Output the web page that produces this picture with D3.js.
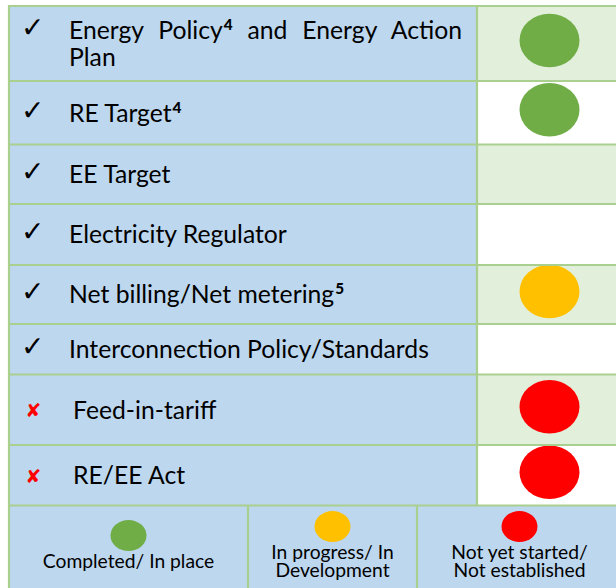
<!DOCTYPE html>
<html>
<head>
<meta charset="utf-8">
<script src="https://cdn.jsdelivr.net/npm/d3@7"></script>
<style>
  html, body { margin: 0; padding: 0; background: #ffffff; }
  svg { display: block; }
</style>
</head>
<body>
<svg id="chart" width="616" height="588"></svg>
<script>
// ---------------- data ----------------
const labels = [
  "Energy Policy{4} and Energy Action|Plan",
  "RE Target{4}",
  "EE Target",
  "Electricity Regulator",
  "Net billing/Net metering{5}",
  "Interconnection Policy/Standards",
  "Feed-in-tariff",
  "RE/EE Act"
];
const marks = ["check", "check", "check", "check", "check", "check", "cross", "cross"];
const statuses = ["done", "done", null, null, "progress", null, "notstarted", "notstarted"];

const legendKeys = ["done", "progress", "notstarted"];
const legendLabels = ["Completed/ In place", "In progress/ In|Development", "Not yet started/|Not established"];

// ---------------- layout / style ----------------
const W = 616, H = 588;
const X0 = 9, XDIV = 477, X1 = 622, Y0 = 6;
const rowHeights = [75, 63.5, 59.5, 61, 59, 50.5, 70.5, 60.5];
const legendDividers = [X0, 248, 417, X1];
const legendBottom = 610;

const blue = "#BDD7EE", lightGreen = "#E2EFDA", border = "#A9D08E";
const color = d3.scaleOrdinal(legendKeys, ["#70AD47", "#FFC000", "#FF0000"]);
const FONT = "Lato, 'Open Sans', sans-serif";

const rowTops = [Y0, ...d3.cumsum(rowHeights).map(v => Y0 + v)];
const yTop = d3.scaleOrdinal(d3.range(labels.length), rowTops.slice(0, labels.length));
const yBottom = d3.scaleOrdinal(d3.range(labels.length), rowTops.slice(1));
const tableBottom = rowTops[rowTops.length - 1];
const statusX = d3.scalePoint().domain(["status"]).range([XDIV, X1]).padding(0.5);
// legend cells have uneven widths in the source; map each key to its own cell
const legendCell = d3.scaleOrdinal(legendKeys, d3.range(3).map(i => [legendDividers[i], legendDividers[i + 1]]));

const svg = d3.select("#chart");

// measure helper
function measure(text, size, weight) {
  const t = svg.append("text").attr("font-family", FONT).attr("font-size", size)
    .attr("font-weight", weight || "normal").text(text);
  const w = t.node().getComputedTextLength();
  t.remove();
  return w;
}
const labelSize = 100 * 360 / measure("Interconnection Policy/Standards", 100);
const legendSize = 0.98 * 100 * 175 / measure("Completed/ In place", 100);

// ---------------- cells ----------------
const rows = svg.append("g").selectAll("g").data(labels).join("g");

rows.append("rect")
  .attr("x", X0).attr("y", (d, i) => yTop(i))
  .attr("width", XDIV - X0).attr("height", (d, i) => yBottom(i) - yTop(i))
  .attr("fill", blue);
rows.append("rect")
  .attr("x", XDIV).attr("y", (d, i) => yTop(i))
  .attr("width", X1 - XDIV).attr("height", (d, i) => yBottom(i) - yTop(i))
  .attr("fill", (d, i) => i % 2 === 0 ? lightGreen : "#ffffff");

// legend cells
svg.append("rect").attr("x", X0).attr("y", tableBottom)
  .attr("width", X1 - X0).attr("height", legendBottom - tableBottom).attr("fill", blue);

// ---------------- grid lines ----------------
const grid = svg.append("g").attr("stroke", border).attr("stroke-width", 2.2).attr("fill", "none");
rowTops.forEach(y => grid.append("line").attr("x1", X0 - 1).attr("x2", X1).attr("y1", y).attr("y2", y));
grid.append("line").attr("x1", X0).attr("x2", X0).attr("y1", Y0 - 1).attr("y2", legendBottom);
grid.append("line").attr("x1", XDIV).attr("x2", XDIV).attr("y1", Y0).attr("y2", tableBottom);
legendDividers.slice(1, 3).forEach(x =>
  grid.append("line").attr("x1", x).attr("x2", x).attr("y1", tableBottom).attr("y2", legendBottom));

// ---------------- labels ----------------
const lineGap = 27;
rows.each(function (label, i) {
  const g = d3.select(this);
  const lines = label.split("|");
  const mid = (yTop(i) + yBottom(i)) / 2;
  const capH = labelSize * 0.72;
  const firstBase = mid + capH / 2 - (lines.length - 1) * lineGap / 2;
  const tx = marks[i] === "check" ? 69 : 73;

  lines.forEach((line, li) => {
    const t = g.append("text")
      .attr("x", tx).attr("y", firstBase + li * lineGap)
      .attr("font-family", FONT).attr("font-size", labelSize).attr("fill", "#000");
    const parts = line.split(/(\{\d\})/).filter(s => s.length);
    let raised = false;
    parts.forEach(p => {
      const m = p.match(/^\{(\d)\}$/);
      if (m) {
        t.append("tspan").attr("dy", -9).attr("dx", 1).attr("font-size", labelSize * 0.62)
          .attr("font-weight", 900).text(m[1]);
        raised = true;
      } else {
        t.append("tspan").attr("dy", raised ? 9 : 0).text(p);
        raised = false;
      }
    });
    if (li < lines.length - 1) {
      const natural = t.node().getComputedTextLength();
      const spaces = (line.match(/ /g) || []).length;
      const target = 461 - tx;
      if (spaces > 0) t.attr("word-spacing", (target - natural) / spaces);
    }
  });

  if (marks[i] === "check") {
    g.append("text").attr("x", 21).attr("y", firstBase - 2)
      .attr("font-family", "DejaVu Sans").attr("font-size", 28)
      .attr("fill", "#000")
      .text("\u2713");
  } else {
    g.append("text").attr("x", 33.3).attr("y", firstBase - 1.5)
      .attr("text-anchor", "middle")
      .attr("font-family", "DejaVu Sans").attr("font-size", 19).attr("font-weight", "bold")
      .attr("fill", "#FF0000")
      .text("\u2718");
  }
});

// ---------------- status dots ----------------
rows.filter((d, i) => statuses[i] !== null)
  .append("ellipse")
  .attr("cx", statusX("status"))
  .attr("cy", d => {
    const idx = labels.indexOf(d);
    return (yTop(idx) + yBottom(idx)) / 2 - 3;
  })
  .attr("rx", 30).attr("ry", 26.7)
  .attr("fill", d => color(statuses[labels.indexOf(d)]));

// ---------------- legend ----------------
const leg = svg.append("g").selectAll("g").data(legendKeys).join("g");
leg.each(function (k, i) {
  const g = d3.select(this);
  const [a, b] = legendCell(k);
  const cx = (a + b) / 2;
  const lines = legendLabels[i].split("|");
  const firstBase = lines.length === 1 ? 568 : 559;
  g.append("ellipse").attr("cx", cx).attr("cy", firstBase - 32.5)
    .attr("rx", 18).attr("ry", 15.5).attr("fill", color(k));
  const t = g.append("text").attr("x", cx).attr("y", firstBase)
    .attr("text-anchor", "middle")
    .attr("font-family", FONT).attr("font-size", legendSize).attr("fill", "#000");
  lines.forEach((ln, li) => {
    t.append("tspan").attr("x", cx).attr("dy", li === 0 ? 0 : 18.3).text(ln);
  });
});
</script>
</body>
</html>
